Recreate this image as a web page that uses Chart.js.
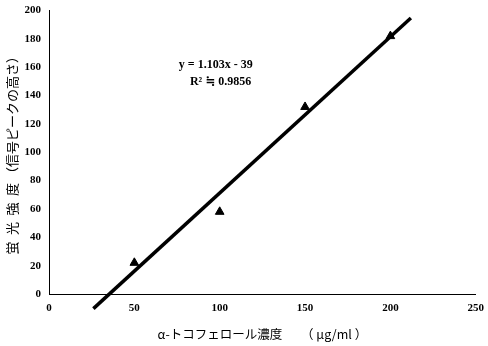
<!DOCTYPE html>
<html>
<head>
<meta charset="utf-8">
<title>蛍光強度</title>
<style>
  html, body { margin: 0; padding: 0; background: #fff; }
  #wrap { width: 488px; height: 346px; }
</style>
</head>
<body>
<div id="wrap"><canvas id="chart" width="488" height="346"></canvas></div>
<script src="https://cdn.jsdelivr.net/npm/chart.js"></script>
<script>
// measured points (x: concentration, y: fluorescence)
var concentrations = [50, 100, 150, 200];
var intensities = [22, 58, 132, 182];
// trend line end points, y = 1.103x - 39
var trendX = [26, 212];
var slope = 1.103, intercept = -39;
var xTicks = [0, 50, 100, 150, 200, 250];
var yTicks = [0, 20, 40, 60, 80, 100, 120, 140, 160, 180, 200];
var eqText = ["y = 1.103x - 39", "R² ≒ 0.9856"];

var serif = "'Liberation Serif', 'DejaVu Serif', serif";
var jp = "'Noto Sans CJK JP', sans-serif";

// equation text near the line
var eqLabel = {
    id: 'eqLabel',
    afterDatasetsDraw: function(chart) {
        var ctx = chart.ctx;
        var xs = chart.scales.x, ys = chart.scales.y;
        ctx.save();
        ctx.fillStyle = '#000';
        ctx.font = 'bold 12px ' + serif;
        ctx.textAlign = 'center';
        ctx.textBaseline = 'middle';
        ctx.fillText(eqText[0], xs.getPixelForValue(97.7), ys.getPixelForValue(162));
        ctx.fillText(eqText[1], xs.getPixelForValue(100.5), ys.getPixelForValue(150));
        ctx.restore();
    }
};

var chart = new Chart(document.getElementById('chart'), {
    type: 'scatter',
    data: {
        datasets: [{
            label: 'data',
            data: concentrations.map(function(c, i) { return {x: c, y: intensities[i]}; }),
            pointStyle: 'triangle',
            pointRadius: 5,
            backgroundColor: '#000',
            borderColor: '#000',
            borderWidth: 1
        }, {
            label: 'trend',
            type: 'line',
            data: trendX.map(function(x) { return {x: x, y: slope * x + intercept}; }),
            borderColor: '#000',
            borderWidth: 3.5,
            pointRadius: 0,
            clip: false
        }]
    },
    options: {
        responsive: false,
        animation: false,
        layout: { padding: { top: 4, right: 0 } },
        plugins: { legend: { display: false }, tooltip: { enabled: false } },
        scales: {
            x: {
                type: 'linear',
                min: 0, max: 250,
                afterBuildTicks: function(s) { s.ticks = xTicks.map(function(v) { return {value: v}; }); },
                afterFit: function(s) { s.height = 52; },
                grid: { display: false, drawTicks: true, tickLength: 4, color: '#000' },
                border: { color: '#000', width: 1 },
                ticks: { color: '#000', font: { family: serif, size: 11, weight: 'bold' }, padding: 4 },
                title: {
                    display: true,
                    text: 'α-トコフェロール濃度\u3000\u2002（ μg/ml ）',
                    color: '#000',
                    font: { family: jp, size: 12.5 },
                    padding: { top: 6 }
                }
            },
            y: {
                min: 0, max: 200,
                afterBuildTicks: function(s) { s.ticks = yTicks.map(function(v) { return {value: v}; }); },
                afterFit: function(s) { s.width = 49; },
                grid: { display: false, tickLength: 4, color: '#000' },
                border: { color: '#000', width: 1 },
                ticks: { color: '#000', font: { family: serif, size: 11, weight: 'bold' }, padding: 4 },
                title: {
                    display: true,
                    text: '蛍\u2002光\u2002強\u2002度 （信号ピークの高さ）',
                    color: '#000',
                    font: { family: jp, size: 13 },
                    padding: { bottom: 2 }
                }
            }
        }
    },
    plugins: [eqLabel]
});
</script>
</body>
</html>
